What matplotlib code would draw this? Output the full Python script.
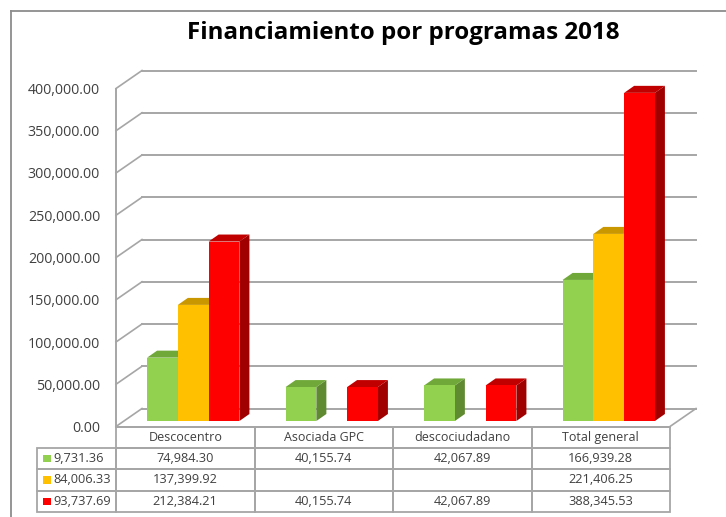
import numpy as np
import matplotlib
matplotlib.use("Agg")
import matplotlib.pyplot as plt
from matplotlib.lines import Line2D
from matplotlib.patches import Polygon, Rectangle
from matplotlib.transforms import Affine2D

plt.rcParams['font.family'] = ['Open Sans', 'DejaVu Sans']

categories = ['Descocentro', 'Asociada GPC', 'descociudadano', 'Total general']
row_labels = ['9,731.36', '84,006.33', '93,737.69']
green_vals = [74984.30, 40155.74, 42067.89, 166939.28]
orange_vals = [137399.92, 0, 0, 221406.25]
red_vals = [212384.21, 40155.74, 42067.89, 388345.53]
table_text = [['74,984.30', '40,155.74', '42,067.89', '166,939.28'],
              ['137,399.92', '', '', '221,406.25'],
              ['212,384.21', '40,155.74', '42,067.89', '388,345.53']]
yticks = [0, 50000, 100000, 150000, 200000, 250000, 300000, 350000, 400000]

series = [(green_vals, '#92D050', '#70A83A', '#5F8A30'),
          (orange_vals, '#FFC000', '#C99700', '#A87F00'),
          (red_vals, '#FF0000', '#C00000', '#A00000')]

W, H = 726, 517
GRID = '#a6a6a6'
TXT = '#404040'

fig = plt.figure(figsize=(W/100, H/100), dpi=100, facecolor='white')
# pixels -> figure fractions
left, right, top, bottom = 116, 670, 88.5, 426.5
ax = fig.add_axes([left/W, 1-bottom/H, (right-left)/W, (bottom-top)/H])
ax.set_xlim(0, 4)
ax.set_ylim(0, 400000)
ax.patch.set_visible(False)
for s in ax.spines.values():
    s.set_visible(False)
ax.set_xticks([])
ax.set_yticks(yticks)
ax.set_yticklabels([format(v, ',.2f') for v in yticks], fontsize=10.2, color=TXT)
ax.tick_params(axis='y', length=0, pad=11.5)

# outer frame, only top and left are inside the picture
fig.add_artist(Line2D([11/W, 1], [1-11/H, 1-11/H], transform=fig.transFigure, color='#8c8c8c', lw=1.3))
fig.add_artist(Line2D([11/W, 11/W], [0, 1-11/H], transform=fig.transFigure, color='#8c8c8c', lw=1.3))

fig.text(403.5/W, 1-33/H, 'Financiamiento por programas 2018', fontsize=17.4, fontweight='bold',
         color='black', ha='center', va='center')

back = ax.transData + Affine2D().translate(26, 18)
mid = ax.transData + Affine2D().translate(8, 5.5)

# wall and floor lines
for v in yticks:
    ax.plot([0, 4], [v, v], color=GRID, lw=1.4, transform=back, clip_on=False, zorder=1)
    p0 = ax.transData.transform((0, v))
    ax.plot([p0[0], p0[0]+26], [p0[1], p0[1]+18], color=GRID, lw=1.2,
            transform=None, clip_on=False, zorder=1)
p1 = ax.transData.transform((4, 0))
ax.plot([p1[0], p1[0]+26], [p1[1], p1[1]+18], color=GRID, lw=1.2, transform=None, clip_on=False, zorder=1)
ax.plot([0, 0], [0, 400000], color=GRID, lw=1.4, clip_on=False, zorder=1)
ax.plot([0, 4], [0, 0], color=GRID, lw=1.4, clip_on=False, zorder=1)

# bars, drawn back to front from the left
bar_w = 0.2222
dx, dy = 10, 7
for c in range(len(categories)):
    for i, (vals, col, top_col, side_col) in enumerate(series):
        v = vals[c]
        if v == 0:
            continue
        x0 = c + 0.5 + (i-1.5)*bar_w
        a = mid.transform((x0, 0))
        b = mid.transform((x0+bar_w, v))
        ax.add_patch(Polygon([(b[0], a[1]), (b[0]+dx, a[1]+dy), (b[0]+dx, b[1]+dy), (b[0], b[1])],
                             closed=True, fc=side_col, ec='none', transform=None, clip_on=False, zorder=3))
        ax.add_patch(Polygon([(a[0], b[1]), (a[0]+dx, b[1]+dy), (b[0]+dx, b[1]+dy), (b[0], b[1])],
                             closed=True, fc=top_col, ec='none', transform=None, clip_on=False, zorder=3))
        ax.bar(x0+bar_w/2, v, width=bar_w, color=col, transform=mid, clip_on=False, zorder=4)

# data table underneath
table_top, table_bot = 426.5, 512
tl = 36.7
col_w = (right-left)/4
bbox = [(tl-left)/(right-left), -(table_bot-bottom)/(bottom-top),
        (right-tl)/(right-left), (table_bot-table_top)/(bottom-top)]
cell_text = [[''] + categories] + [[l] + r for l, r in zip(row_labels, table_text)]
tb = ax.table(cellText=cell_text, bbox=bbox, cellLoc='center',
              colWidths=[(left-tl)/(right-tl)] + [col_w/(right-tl)]*4)
tb.auto_set_font_size(False)
tb.set_fontsize(9.2)
for (r, c), cell in tb.get_celld().items():
    cell.set_edgecolor(GRID)
    cell.set_linewidth(1.3)
    cell.set_facecolor('none')
    cell.get_text().set_color(TXT)
    if r == 0:
        cell.get_text().set_fontsize(9)
    if c == 0 and r == 0:
        cell.visible_edges = ''
    if c == 0 and r > 0:
        cell.get_text().set_ha('left')
        cell.PAD = 0.205

# legend keys in the first table column
row_h = (table_bot-table_top)/4
for i, (vals, col, _, _) in enumerate(series):
    yc = table_top + row_h*(i+1.5)
    fig.add_artist(Rectangle((43/W, 1-(yc+3.75)/H), 7.5/W, 7.5/H, transform=fig.transFigure,
                             fc=col, ec='none'))

fig.savefig('out.png', dpi=100)
